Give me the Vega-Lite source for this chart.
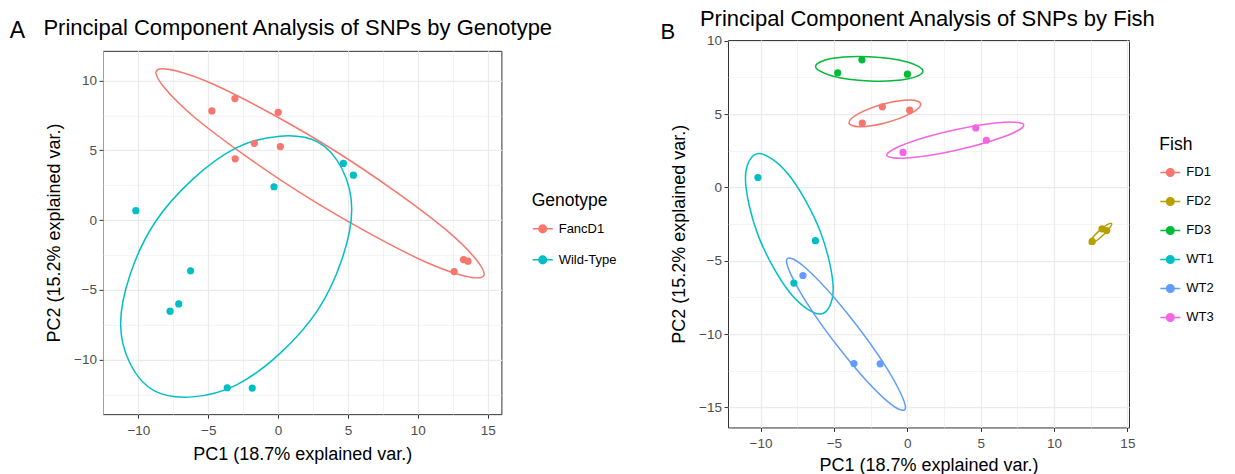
{
  "$schema": "https://vega.github.io/schema/vega-lite/v6.json",
  "background": "white",
  "padding": {"top": 7, "left": 9, "right": 0, "bottom": 0},
  "center": true,
  "spacing": 43,
  "config": {
    "font": "Liberation Sans",
    "view": {"stroke": "#333333", "strokeWidth": 1},
    "title": {"color": "black", "fontWeight": "normal"},
    "axis": {"labelColor": "#4d4d4d", "labelFontSize": 13.5, "titleFontSize": 18, "titleFontWeight": "normal", "titleColor": "black", "tickColor": "#333333", "tickSize": 4, "tickWidth": 1, "domain": false, "gridColor": "#ebebeb"},
    "legend": {"titleFontSize": 17.5, "titleFontWeight": "normal", "titleColor": "black", "labelFontSize": 13, "labelColor": "black"}
  },
  "resolve": {"scale": {"color": "independent"}, "legend": {"color": "independent"}},
  "datasets": {
    "points": [
      {"Fish": "FD1", "Genotype": "FancD1", "PC1": -3.07, "PC2": 4.39},
      {"Fish": "FD1", "Genotype": "FancD1", "PC1": -1.70, "PC2": 5.50},
      {"Fish": "FD1", "Genotype": "FancD1", "PC1": 0.16, "PC2": 5.27},
      {"Fish": "FD2", "Genotype": "FancD1", "PC1": 12.60, "PC2": -3.68},
      {"Fish": "FD2", "Genotype": "FancD1", "PC1": 13.27, "PC2": -2.82},
      {"Fish": "FD2", "Genotype": "FancD1", "PC1": 13.59, "PC2": -2.94},
      {"Fish": "FD3", "Genotype": "FancD1", "PC1": -4.74, "PC2": 7.82},
      {"Fish": "FD3", "Genotype": "FancD1", "PC1": -3.09, "PC2": 8.70},
      {"Fish": "FD3", "Genotype": "FancD1", "PC1": 0.01, "PC2": 7.72},
      {"Fish": "WT1", "Genotype": "Wild-Type", "PC1": -10.18, "PC2": 0.68},
      {"Fish": "WT1", "Genotype": "Wild-Type", "PC1": -6.26, "PC2": -3.63},
      {"Fish": "WT1", "Genotype": "Wild-Type", "PC1": -7.73, "PC2": -6.52},
      {"Fish": "WT2", "Genotype": "Wild-Type", "PC1": -7.11, "PC2": -6.00},
      {"Fish": "WT2", "Genotype": "Wild-Type", "PC1": -3.64, "PC2": -12.00},
      {"Fish": "WT2", "Genotype": "Wild-Type", "PC1": -1.85, "PC2": -12.02},
      {"Fish": "WT3", "Genotype": "Wild-Type", "PC1": -0.29, "PC2": 2.39},
      {"Fish": "WT3", "Genotype": "Wild-Type", "PC1": 4.67, "PC2": 4.06},
      {"Fish": "WT3", "Genotype": "Wild-Type", "PC1": 5.39, "PC2": 3.22}
    ],
    "ellA": [
      {"Genotype": "FancD1", "i": 0, "PC1": 14.71, "PC2": -3.99},
      {"Genotype": "FancD1", "i": 1, "PC1": 12.005, "PC2": -0.684},
      {"Genotype": "FancD1", "i": 2, "PC1": 4.025, "PC2": 4.985},
      {"Genotype": "FancD1", "i": 3, "PC1": -4.555, "PC2": 9.696},
      {"Genotype": "FancD1", "i": 4, "PC1": -8.71, "PC2": 10.69},
      {"Genotype": "FancD1", "i": 5, "PC1": -6.005, "PC2": 7.384},
      {"Genotype": "FancD1", "i": 6, "PC1": 1.975, "PC2": 1.715},
      {"Genotype": "FancD1", "i": 7, "PC1": 10.555, "PC2": -2.996},
      {"Genotype": "Wild-Type", "i": 0, "PC1": 5.27, "PC2": 0.785},
      {"Genotype": "Wild-Type", "i": 1, "PC1": 2.848, "PC2": 5.585},
      {"Genotype": "Wild-Type", "i": 2, "PC1": -3.0, "PC2": 5.168},
      {"Genotype": "Wild-Type", "i": 3, "PC1": -8.848, "PC2": -0.221},
      {"Genotype": "Wild-Type", "i": 4, "PC1": -11.27, "PC2": -7.425},
      {"Genotype": "Wild-Type", "i": 5, "PC1": -8.848, "PC2": -12.225},
      {"Genotype": "Wild-Type", "i": 6, "PC1": -3.0, "PC2": -11.808},
      {"Genotype": "Wild-Type", "i": 7, "PC1": 2.848, "PC2": -6.419}
    ],
    "ellB": [
      {"Fish": "FD1", "i": 0, "PC1": 0.91, "PC2": 5.68},
      {"Fish": "FD1", "i": 1, "PC1": 0.195, "PC2": 5.96},
      {"Fish": "FD1", "i": 2, "PC1": -1.53, "PC2": 5.707},
      {"Fish": "FD1", "i": 3, "PC1": -3.255, "PC2": 5.069},
      {"Fish": "FD1", "i": 4, "PC1": -3.97, "PC2": 4.42},
      {"Fish": "FD1", "i": 5, "PC1": -3.255, "PC2": 4.14},
      {"Fish": "FD1", "i": 6, "PC1": -1.53, "PC2": 4.393},
      {"Fish": "FD1", "i": 7, "PC1": 0.195, "PC2": 5.031},
      {"Fish": "FD2", "i": 0, "PC1": 13.92, "PC2": -2.45},
      {"Fish": "FD2", "i": 1, "PC1": 13.604, "PC2": -2.548},
      {"Fish": "FD2", "i": 2, "PC1": 13.035, "PC2": -2.993},
      {"Fish": "FD2", "i": 3, "PC1": 12.544, "PC2": -3.524},
      {"Fish": "FD2", "i": 4, "PC1": 12.42, "PC2": -3.83},
      {"Fish": "FD2", "i": 5, "PC1": 12.736, "PC2": -3.732},
      {"Fish": "FD2", "i": 6, "PC1": 13.305, "PC2": -3.287},
      {"Fish": "FD2", "i": 7, "PC1": 13.796, "PC2": -2.756},
      {"Fish": "FD3", "i": 0, "PC1": 1.07, "PC2": 7.926},
      {"Fish": "FD3", "i": 1, "PC1": -0.002, "PC2": 8.557},
      {"Fish": "FD3", "i": 2, "PC1": -2.59, "PC2": 8.914},
      {"Fish": "FD3", "i": 3, "PC1": -5.178, "PC2": 8.789},
      {"Fish": "FD3", "i": 4, "PC1": -6.25, "PC2": 8.254},
      {"Fish": "FD3", "i": 5, "PC1": -5.178, "PC2": 7.623},
      {"Fish": "FD3", "i": 6, "PC1": -2.59, "PC2": 7.266},
      {"Fish": "FD3", "i": 7, "PC1": -0.002, "PC2": 7.391},
      {"Fish": "WT1", "i": 0, "PC1": -5.05, "PC2": -6.927},
      {"Fish": "WT1", "i": 1, "PC1": -5.926, "PC2": -3.015},
      {"Fish": "WT1", "i": 2, "PC1": -8.04, "PC2": 0.814},
      {"Fish": "WT1", "i": 3, "PC1": -10.154, "PC2": 2.316},
      {"Fish": "WT1", "i": 4, "PC1": -11.03, "PC2": 0.613},
      {"Fish": "WT1", "i": 5, "PC1": -10.154, "PC2": -3.299},
      {"Fish": "WT1", "i": 6, "PC1": -8.04, "PC2": -7.128},
      {"Fish": "WT1", "i": 7, "PC1": -5.926, "PC2": -8.63},
      {"Fish": "WT2", "i": 0, "PC1": -0.125, "PC2": -14.994},
      {"Fish": "WT2", "i": 1, "PC1": -1.313, "PC2": -12.446},
      {"Fish": "WT2", "i": 2, "PC1": -4.18, "PC2": -8.466},
      {"Fish": "WT2", "i": 3, "PC1": -7.047, "PC2": -5.385},
      {"Fish": "WT2", "i": 4, "PC1": -8.235, "PC2": -5.006},
      {"Fish": "WT2", "i": 5, "PC1": -7.047, "PC2": -7.554},
      {"Fish": "WT2", "i": 6, "PC1": -4.18, "PC2": -11.534},
      {"Fish": "WT2", "i": 7, "PC1": -1.313, "PC2": -14.615},
      {"Fish": "WT3", "i": 0, "PC1": 7.94, "PC2": 4.25},
      {"Fish": "WT3", "i": 1, "PC1": 6.572, "PC2": 4.45},
      {"Fish": "WT3", "i": 2, "PC1": 3.27, "PC2": 3.935},
      {"Fish": "WT3", "i": 3, "PC1": -0.032, "PC2": 3.007},
      {"Fish": "WT3", "i": 4, "PC1": -1.40, "PC2": 2.21},
      {"Fish": "WT3", "i": 5, "PC1": -0.032, "PC2": 2.01},
      {"Fish": "WT3", "i": 6, "PC1": 3.27, "PC2": 2.525},
      {"Fish": "WT3", "i": 7, "PC1": 6.572, "PC2": 3.453}
    ]
  },
  "hconcat": [
    {
      "title": {"text": "A", "orient": "left", "anchor": "end", "angle": 0, "align": "left", "baseline": "top", "fontSize": 23, "offset": 17.7, "dy": 3.2},
      "vconcat": [
        {
          "title": {"text": "Principal Component Analysis of SNPs by Genotype", "anchor": "start", "frame": "bounds", "fontSize": 22, "offset": 10.6, "dx": -1.7},
          "width": 398.4,
          "height": 363.3,
          "resolve": {"axis": {"x": "independent", "y": "independent"}},
          "layer": [
            {
              "data": {"name": "points"},
              "mark": {"type": "point", "opacity": 0},
              "encoding": {
                "x": {"field": "PC1", "type": "quantitative", "scale": {"domain": [-12.53, 15.98], "nice": false, "zero": false},
                  "axis": {"orient": "bottom", "values": [-12.5, -7.5, -2.5, 2.5, 7.5, 12.5], "grid": true, "gridWidth": 0.6, "labels": false, "ticks": false, "title": null}},
                "y": {"field": "PC2", "type": "quantitative", "scale": {"domain": [-13.89, 12.12], "nice": false, "zero": false},
                  "axis": {"orient": "left", "values": [-12.5, -7.5, -2.5, 2.5, 7.5], "grid": true, "gridWidth": 0.6, "labels": false, "ticks": false, "title": null}}
              }
            },
            {
              "data": {"name": "ellA"},
              "mark": {"type": "line", "interpolate": "cardinal-closed", "strokeWidth": 1.5},
              "encoding": {
                "x": {"field": "PC1", "type": "quantitative", "axis": null},
                "y": {"field": "PC2", "type": "quantitative", "axis": null},
                "order": {"field": "i", "type": "quantitative"},
                "color": {"field": "Genotype", "type": "nominal",
                  "scale": {"domain": ["FancD1", "Wild-Type"], "range": ["#F8766D", "#00BFC4"]},
                  "legend": {"title": "Genotype", "orient": "none", "legendX": 428.7, "legendY": 141.5, "symbolType": "M-1,0H1M-0.38,0A0.38,0.38,0,1,1,0.38,0A0.38,0.38,0,1,1,-0.38,0Z", "symbolSize": 400, "symbolStrokeWidth": 1.5, "rowPadding": 13, "titlePadding": 8, "labelOffset": 5, "padding": 0}}
              }
            },
            {
              "data": {"name": "points"},
              "mark": {"type": "point", "filled": true, "size": 52, "opacity": 1},
              "encoding": {
                "x": {"field": "PC1", "type": "quantitative",
                  "axis": {"orient": "bottom", "values": [-10, -5, 0, 5, 10, 15], "grid": true, "gridWidth": 1.2, "labelPadding": 5, "title": "PC1 (18.7% explained var.)", "titlePadding": 9}},
                "y": {"field": "PC2", "type": "quantitative",
                  "axis": {"orient": "left", "values": [-10, -5, 0, 5, 10], "grid": true, "gridWidth": 1.2, "labelPadding": 2.5, "title": "PC2 (15.2% explained var.)", "titlePadding": 10.5}},
                "color": {"field": "Genotype", "type": "nominal",
                  "scale": {"domain": ["FancD1", "Wild-Type"], "range": ["#F8766D", "#00BFC4"]},
                  "legend": {"title": "Genotype", "orient": "none", "legendX": 428.7, "legendY": 141.5, "symbolType": "M-1,0H1M-0.38,0A0.38,0.38,0,1,1,0.38,0A0.38,0.38,0,1,1,-0.38,0Z", "symbolSize": 400, "symbolStrokeWidth": 1.5, "rowPadding": 13, "titlePadding": 8, "labelOffset": 5, "padding": 0}}
              }
            }
          ]
        }
      ]
    },
    {
      "title": {"text": "B", "orient": "left", "anchor": "end", "angle": 0, "align": "left", "baseline": "top", "fontSize": 22, "offset": -5, "dy": 14},
      "vconcat": [
        {
          "title": {"text": "Principal Component Analysis of SNPs by Fish", "anchor": "start", "frame": "bounds", "fontSize": 22, "offset": 2.3, "dx": 29.3},
          "width": 401,
          "height": 387.4,
          "resolve": {"axis": {"x": "independent", "y": "independent"}},
          "layer": [
            {
              "data": {"name": "points"},
              "mark": {"type": "point", "opacity": 0},
              "encoding": {
                "x": {"field": "PC1", "type": "quantitative", "scale": {"domain": [-12.22, 15.11], "nice": false, "zero": false},
                  "axis": {"orient": "bottom", "values": [-7.5, -2.5, 2.5, 7.5, 12.5], "grid": true, "gridWidth": 0.6, "labels": false, "ticks": false, "title": null}},
                "y": {"field": "PC2", "type": "quantitative", "scale": {"domain": [-16.36, 10.05], "nice": false, "zero": false},
                  "axis": {"orient": "left", "values": [-12.5, -7.5, -2.5, 2.5, 7.5], "grid": true, "gridWidth": 0.6, "labels": false, "ticks": false, "title": null}}
              }
            },
            {
              "data": {"name": "ellB"},
              "mark": {"type": "line", "interpolate": "cardinal-closed", "strokeWidth": 1.5},
              "encoding": {
                "x": {"field": "PC1", "type": "quantitative", "axis": null},
                "y": {"field": "PC2", "type": "quantitative", "axis": null},
                "order": {"field": "i", "type": "quantitative"},
                "color": {"field": "Fish", "type": "nominal",
                  "scale": {"domain": ["FD1", "FD2", "FD3", "WT1", "WT2", "WT3"], "range": ["#F8766D", "#B79F00", "#00BA38", "#00BFC4", "#619CFF", "#F564E3"]},
                  "legend": {"title": "Fish", "orient": "none", "legendX": 431.3, "legendY": 95.9, "symbolType": "M-1,0H1M-0.38,0A0.38,0.38,0,1,1,0.38,0A0.38,0.38,0,1,1,-0.38,0Z", "symbolSize": 400, "symbolStrokeWidth": 1.5, "rowPadding": 11, "titlePadding": 8, "labelOffset": 5, "padding": 0}}
              }
            },
            {
              "data": {"name": "points"},
              "mark": {"type": "point", "filled": true, "size": 52, "opacity": 1},
              "encoding": {
                "x": {"field": "PC1", "type": "quantitative",
                  "axis": {"orient": "bottom", "values": [-10, -5, 0, 5, 10, 15], "grid": true, "gridWidth": 1.2, "labelPadding": 5.5, "title": "PC1 (18.7% explained var.)", "titlePadding": 6}},
                "y": {"field": "PC2", "type": "quantitative",
                  "axis": {"orient": "left", "values": [-15, -10, -5, 0, 5, 10], "grid": true, "gridWidth": 1.2, "labelPadding": 2.5, "title": "PC2 (15.2% explained var.)", "titlePadding": 10}},
                "color": {"field": "Fish", "type": "nominal",
                  "scale": {"domain": ["FD1", "FD2", "FD3", "WT1", "WT2", "WT3"], "range": ["#F8766D", "#B79F00", "#00BA38", "#00BFC4", "#619CFF", "#F564E3"]},
                  "legend": {"title": "Fish", "orient": "none", "legendX": 431.3, "legendY": 95.9, "symbolType": "M-1,0H1M-0.38,0A0.38,0.38,0,1,1,0.38,0A0.38,0.38,0,1,1,-0.38,0Z", "symbolSize": 400, "symbolStrokeWidth": 1.5, "rowPadding": 11, "titlePadding": 8, "labelOffset": 5, "padding": 0}}
              }
            }
          ]
        }
      ]
    }
  ]
}
